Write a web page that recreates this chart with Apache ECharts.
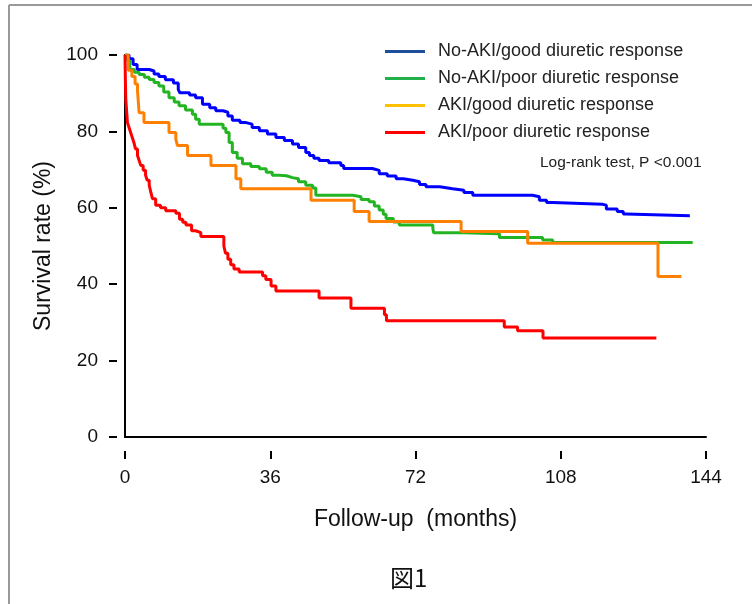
<!DOCTYPE html>
<html>
<head>
<meta charset="utf-8">
<script src="https://cdn.jsdelivr.net/npm/echarts@6/dist/echarts.min.js"></script>
<style>
html,body{margin:0;padding:0;background:#fff;}
#chart{width:752px;height:604px;}
</style>
</head>
<body>
<div id="chart"></div>
<script>
// ---- data ----
var seriesNames = ['No-AKI/good diuretic response','No-AKI/poor diuretic response','AKI/good diuretic response','AKI/poor diuretic response'];
var xTicks = [0, 36, 72, 108, 144];
var yTicks = [0, 20, 40, 60, 80, 100];
// [month, survival %]
var noAkiGood = [[0,100],[1,99],[2,97.5],[3,96.2],[6,95.8],[7.2,95],[8.4,94.4],[10,93.5],[12,92.7],[13.2,91],[13.6,90.1],[16,89.5],[17.5,88.8],[19.2,87.1],[21,86.2],[22.5,85.4],[24.3,85],[25.5,84],[26.6,82.9],[28.5,82.3],[30,81.9],[31.5,81],[33.3,80.2],[35.3,79.3],[37.4,78.4],[39.5,77.6],[41.5,76.7],[43,75.8],[44.8,74.5],[45.7,73.7],[46.8,73],[48.1,72.4],[50.5,71.8],[53.5,71.1],[54.2,70.3],[61.3,69.8],[63,68.9],[65,68.3],[67.2,67.6],[69,67.2],[71.3,66.8],[73,66.1],[74.6,65.5],[78,65],[81.2,64.6],[84,64],[86.2,63.3],[101,62.9],[102.7,62],[104.5,61.4],[106,60.9],[118.4,60.7],[119.3,59.7],[122,59],[123.5,58.4],[124.2,57.9],[140,57.9]];
var noAkiPoor = [[0,100],[0.6,98.5],[1.2,96.2],[2.3,95.5],[3.5,94.9],[4.8,94.2],[6,93.6],[7.2,92.8],[8.4,91.9],[9.6,90.3],[10.9,88.8],[12.2,87.7],[13.4,86.7],[15,85.6],[16.7,84.5],[17.5,83.2],[18.4,81.9],[23.7,81.9],[24.3,80.8],[25,79.7],[25.8,77.1],[26.6,74.5],[27.8,73],[29.1,71.5],[31.2,70.8],[33.3,70.2],[35,69.3],[36.5,68.5],[38.2,68.4],[40,67.9],[41.5,67.6],[43,66.8],[44.8,65.9],[46.5,65.2],[47.3,63.3],[56.4,62.9],[58.5,62.2],[60.5,61.6],[61.8,60.5],[63,59.4],[64,58.3],[64.7,57.2],[66.5,56.3],[68,55.5],[76.3,54.6],[76.5,53.5],[84,53.2],[92.8,52.2],[103.5,51.6],[106,50.9],[140.7,50.9]];
var akiGood = [[0,100],[0.8,96],[1.7,94.4],[2.5,92.4],[3.1,90.6],[3.5,84.9],[4.7,82.3],[10.9,79.7],[12.6,78],[13,76.3],[15.5,73.7],[21.3,71.1],[27.5,67.6],[28.7,65],[46.1,62],[56.8,59],[60.5,56.4],[83.3,53.8],[99.8,50.7],[132.1,42],[137.9,42]];
var akiPoor = [[0,100],[0.1,93],[0.2,88.4],[0.6,82.3],[1,81],[1.4,79.7],[1.8,78.4],[2.2,77.1],[2.6,75.4],[3.1,73.7],[3.5,72.4],[3.9,71.1],[4.5,69.8],[5.1,68.5],[5.5,67.2],[6,65.9],[6.4,64.1],[6.8,62.4],[7.6,60.7],[8.8,60],[10.1,59.2],[12.6,58.6],[13.5,57],[14.3,56.2],[15.1,55.5],[16.5,54],[17.5,53.5],[18.8,52.5],[24.5,50],[24.9,48.1],[25.5,46.5],[26.2,45.1],[27,44],[28.3,43.2],[34.1,42.2],[34.9,41.2],[36.2,39.5],[37.4,38.2],[48.1,36.4],[56,33.7],[64.3,32],[64.8,30.4],[94,28.8],[97.3,27.8],[103.6,25.9],[131.7,25.9]];
var curveColors = ['#0000ff','#22b422','#ff8000','#ff0000'];
var legendColors = ['#1f4e9a','#22b04b','#ffc000','#ff0000'];
var seriesData = [noAkiGood, noAkiPoor, akiGood, akiPoor];

var FONT = '"Liberation Sans", Arial, sans-serif';
var chart = echarts.init(document.getElementById('chart'), null, {renderer:'canvas'});

var series = seriesNames.map(function(n, i){
  return {
    name: n, type: 'line', step: 'end', data: seriesData[i],
    xAxisIndex: 0, yAxisIndex: 0,
    showSymbol: false, symbol: 'none', silent: true, animation: false,
    lineStyle: {color: curveColors[i], width: 3},
    itemStyle: {color: curveColors[i]}
  };
});

chart.setOption({
  animation: false,
  backgroundColor: '#fff',
  textStyle: {fontFamily: FONT},
  grid: {left: 125, right: 46, top: 55, bottom: 167, containLabel: false},
  legend: {
    orient: 'vertical', left: 380, top: 37,
    icon: 'rect', itemWidth: 40, itemHeight: 3, itemGap: 8,
    textStyle: {fontSize: 18, color: '#222', fontFamily: FONT, lineHeight: 19, padding: [0,0,0,8]},
    data: seriesNames.map(function(n, i){ return {name: n, itemStyle: {color: legendColors[i]}}; })
  },
  xAxis: [
    {type: 'value', min: 0, max: 144, interval: 36, position: 'bottom',
     axisLine: {show: true, onZero: false, lineStyle: {color: '#000', width: 2}},
     axisTick: {show: false}, axisLabel: {show: false}, splitLine: {show: false}},
    {type: 'value', min: 0, max: 144, interval: 36, position: 'bottom', offset: 14,
     axisLine: {show: false, onZero: false},
     axisTick: {show: true, length: 8, lineStyle: {color: '#000', width: 2}},
     axisLabel: {margin: 17, fontSize: 19, color: '#111', fontFamily: FONT,
       formatter: function(v){ return xTicks.indexOf(v) >= 0 ? String(v) : ''; }},
     splitLine: {show: false},
     name: 'Follow-up  (months)', nameLocation: 'middle', nameGap: 57,
     nameTextStyle: {fontSize: 23, color: '#111', fontFamily: FONT}}
  ],
  yAxis: [
    {type: 'value', min: 0, max: 100, interval: 20, position: 'left',
     axisLine: {show: true, onZero: false, lineStyle: {color: '#000', width: 2}},
     axisTick: {show: false}, axisLabel: {show: false}, splitLine: {show: false}},
    {type: 'value', min: 0, max: 100, interval: 20, position: 'left', offset: 8,
     axisLine: {show: false, onZero: false},
     axisTick: {show: true, length: 8, lineStyle: {color: '#000', width: 2}},
     axisLabel: {margin: 19, fontSize: 19, color: '#111', fontFamily: FONT,
       formatter: function(v){ return yTicks.indexOf(v) >= 0 ? String(v) : ''; }},
     splitLine: {show: false},
     name: 'Survival rate (%)', nameLocation: 'middle', nameGap: 58,
     nameTextStyle: {fontSize: 23, color: '#111', fontFamily: FONT}}
  ],
  graphic: [
    {type: 'line', shape: {x1: 9, y1: 5, x2: 752, y2: 5}, style: {stroke: '#999', lineWidth: 2}, silent: true},
    {type: 'line', shape: {x1: 9, y1: 5, x2: 9, y2: 604}, style: {stroke: '#999', lineWidth: 2}, silent: true},
    {type: 'text', left: 540, top: 155, style: {text: 'Log-rank test, P <0.001', fontSize: 15.5, fill: '#222', fontFamily: FONT}, silent: true},
    {type: 'text', left: 390, top: 566, style: {text: '図1', fontSize: 24, fill: '#111', fontFamily: '"Noto Sans CJK JP", sans-serif'}, silent: true}
  ],
  series: series
});
</script>
</body>
</html>
